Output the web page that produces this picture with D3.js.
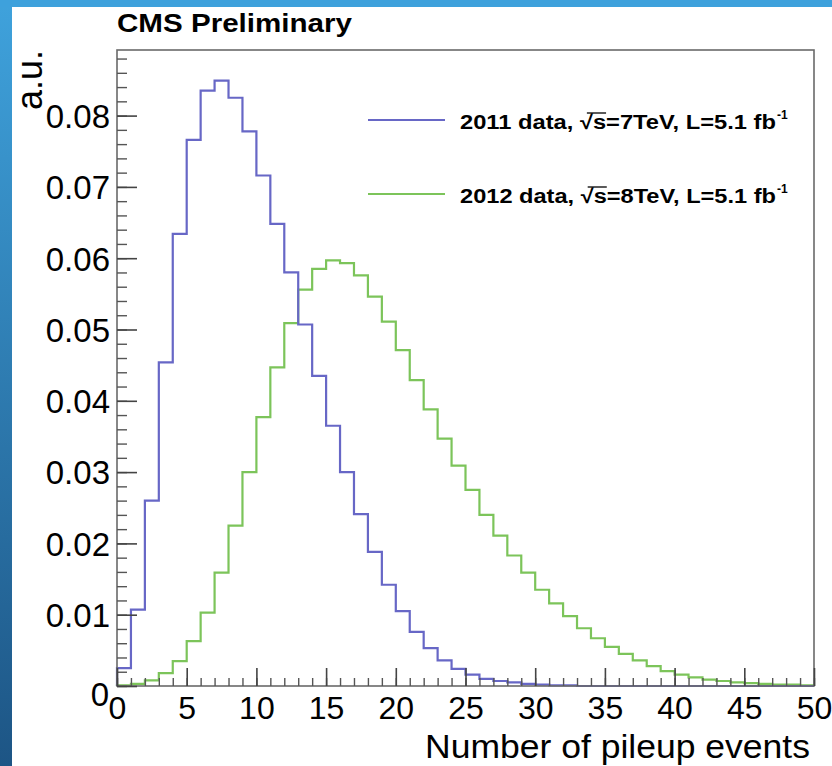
<!DOCTYPE html>
<html>
<head>
<meta charset="utf-8">
<script src="https://cdn.jsdelivr.net/npm/d3@7"></script>
<style>
  html, body { margin: 0; padding: 0; background: #fff; }
  svg { display: block; }
  text { font-family: "Liberation Sans", Arial, Helvetica, sans-serif; }
</style>
</head>
<body>
<svg id="chart" width="832" height="766"></svg>
<script>
// ---- data ----
const binEdgesStart = 0;      // first bin low edge
const binWidth = 1;           // pileup bins of width 1
const pileup2011 = [0.0025, 0.0107, 0.0260, 0.0454, 0.0634, 0.0766, 0.0835, 0.0849, 0.0825, 0.0778,
                    0.0716, 0.0648, 0.0580, 0.0507, 0.0435, 0.0365, 0.0300, 0.0241, 0.0188, 0.0142,
                    0.0105, 0.0076, 0.0053, 0.0036, 0.0024, 0.0016, 0.0010, 0.0007, 0.0005, 0.0003,
                    0.0002, 0.0001, 0.0001, 0, 0, 0, 0, 0, 0, 0,
                    0, 0, 0, 0, 0, 0, 0, 0, 0, 0];
const pileup2012 = [0.0001, 0.0003, 0.0008, 0.0018, 0.0035, 0.0063, 0.0103, 0.0159, 0.0225, 0.0300,
                    0.0377, 0.0447, 0.0509, 0.0556, 0.0585, 0.0597, 0.0593, 0.0576, 0.0546, 0.0511,
                    0.0471, 0.0429, 0.0388, 0.0347, 0.0309, 0.0275, 0.0240, 0.0211, 0.0183, 0.0159,
                    0.0135, 0.0116, 0.0098, 0.0081, 0.0067, 0.0055, 0.0045, 0.0036, 0.0028, 0.0021,
                    0.0016, 0.0012, 0.0009, 0.0007, 0.0005, 0.0004, 0.0003, 0.0002, 0.0002, 0.0001];
const seriesNames = ["2011", "2012"];
const legendLabels = ["2011 data, \u221As=7TeV, L=5.1 fb", "2012 data, \u221As=8TeV, L=5.1 fb"];
const xTickValues = [0, 5, 10, 15, 20, 25, 30, 35, 40, 45, 50];
const yTickValues = [0, 0.01, 0.02, 0.03, 0.04, 0.05, 0.06, 0.07, 0.08];
const xDomain = [0, 50];
const yDomain = [0, 0.0892];
const titleText = "CMS Preliminary";
const xTitle = "Number of pileup events";
const yTitle = "a.u.";

// ---- layout ----
const svg = d3.select("#chart");
const L = 117, R = 814, T = 50, B = 686;
const colors = { "2011": "#6767c6", "2012": "#7cc45a" };

// background decoration (blue slide edge)
const defs = svg.append("defs");
const grad = defs.append("linearGradient").attr("id", "edge").attr("x1", 0).attr("y1", 0).attr("x2", 0).attr("y2", 1);
grad.append("stop").attr("offset", "0%").attr("stop-color", "#3fa2dc");
grad.append("stop").attr("offset", "100%").attr("stop-color", "#1d5585");
svg.append("rect").attr("x", 0).attr("y", 0).attr("width", 832).attr("height", 766).attr("fill", "#fff");
svg.append("rect").attr("x", 0).attr("y", 0).attr("width", 12).attr("height", 766).attr("fill", "url(#edge)");
svg.append("rect").attr("x", 0).attr("y", 0).attr("width", 832).attr("height", 7).attr("fill", "#3ea1dc");

const x = d3.scaleLinear().domain(xDomain).range([L, R]);
const y = d3.scaleLinear().domain(yDomain).range([B, T]);

// histograms
function stepPoints(vals) {
  const pts = [[binEdgesStart, 0]];
  vals.forEach((v, i) => pts.push([binEdgesStart + i * binWidth, v]));
  pts.push([binEdgesStart + vals.length * binWidth, vals[vals.length - 1]]);
  return pts;
}
const line = d3.line().x(d => x(d[0])).y(d => y(d[1])).curve(d3.curveStepAfter);
const plot = svg.append("g");
plot.append("path").attr("d", line(stepPoints(pileup2012)))
  .attr("fill", "none").attr("stroke", colors["2012"]).attr("stroke-width", 2.2);
plot.append("path").attr("d", line(stepPoints(pileup2011)))
  .attr("fill", "none").attr("stroke", colors["2011"]).attr("stroke-width", 2.2);

// frame
svg.append("rect").attr("x", L).attr("y", T).attr("width", R - L).attr("height", B - T)
  .attr("fill", "none").attr("stroke", "#6a6a6a").attr("stroke-width", 1.6);

// y axis
const yMinor = d3.range(0, 0.0891, 0.002);
const yAxisMinor = d3.axisLeft(y).tickValues(yMinor).tickSize(-10).tickFormat("");
svg.append("g").attr("transform", `translate(${L},0)`).call(yAxisMinor)
  .call(g => g.select(".domain").remove())
  .call(g => g.selectAll("line").attr("stroke", "#555").attr("stroke-width", 1.4));
const yAxis = d3.axisLeft(y).tickValues(yTickValues).tickSize(-20).tickPadding(7)
  .tickFormat(d => d === 0 ? "0" : d3.format(".2f")(d));
svg.append("g").attr("transform", `translate(${L},0)`).call(yAxis)
  .call(g => g.select(".domain").remove())
  .call(g => g.selectAll("line").attr("stroke", "#444").attr("stroke-width", 1.6))
  .call(g => g.selectAll("text").attr("font-size", 33).attr("fill", "#000")
    .attr("font-family", "'Liberation Sans', Arial, sans-serif")
    .attr("dy", d => d === 0 ? "0.6em" : "0.36em")
    .attr("x", d => d === 0 ? -8 : -7));

// x axis
const xMinor = d3.range(0, 50.01, 1);
const xAxisMinor = d3.axisBottom(x).tickValues(xMinor).tickSize(-8).tickFormat("");
svg.append("g").attr("transform", `translate(0,${B})`).call(xAxisMinor)
  .call(g => g.select(".domain").remove())
  .call(g => g.selectAll("line").attr("stroke", "#555").attr("stroke-width", 1.4));
const xAxis = d3.axisBottom(x).tickValues(xTickValues).tickSize(-18).tickPadding(10).tickFormat(d3.format("d"));
svg.append("g").attr("transform", `translate(0,${B})`).call(xAxis)
  .call(g => g.select(".domain").remove())
  .call(g => g.selectAll("line").attr("stroke", "#444").attr("stroke-width", 1.6))
  .call(g => g.selectAll("text").attr("font-size", 32).attr("fill", "#000")
    .attr("font-family", "'Liberation Sans', Arial, sans-serif"));

// titles
svg.append("text").attr("x", L).attr("y", 32).attr("font-size", 25).attr("font-weight", "bold")
  .attr("textLength", 235).attr("lengthAdjust", "spacingAndGlyphs").text(titleText);
svg.append("text").attr("x", 810).attr("y", 758).attr("text-anchor", "end").attr("font-size", 34)
  .attr("textLength", 385).attr("lengthAdjust", "spacingAndGlyphs")
  .text(xTitle);
svg.append("text").attr("transform", "translate(42,50) rotate(-90)").attr("text-anchor", "end")
  .attr("font-size", 36).text(yTitle);

// legend
const legendY = [120, 194];
seriesNames.forEach((s, i) => {
  const ly = legendY[i];
  svg.append("line").attr("x1", 368).attr("x2", 445).attr("y1", ly).attr("y2", ly)
    .attr("stroke", colors[s]).attr("stroke-width", 2.2);
  const t = svg.append("text").attr("x", 460).attr("y", ly + 9).attr("font-size", 20)
    .attr("font-weight", "bold").attr("textLength", 316).attr("lengthAdjust", "spacingAndGlyphs")
    .text(legendLabels[i]);
  const node = t.node();
  const len = node.getComputedTextLength();
  // overline of the square root over "s"
  const idx = legendLabels[i].indexOf("\u221A");
  const sStart = node.getStartPositionOfChar(idx);
  const sEnd = node.getEndPositionOfChar(idx + 1);
  svg.append("line").attr("x1", sStart.x + 7).attr("x2", sEnd.x).attr("y1", ly - 7).attr("y2", ly - 7)
    .attr("stroke", "#000").attr("stroke-width", 1.3);
  svg.append("text").attr("x", 460 + len + 1).attr("y", ly - 1).attr("font-size", 12)
    .attr("font-weight", "bold").text("-1");
});
</script>
</body>
</html>
